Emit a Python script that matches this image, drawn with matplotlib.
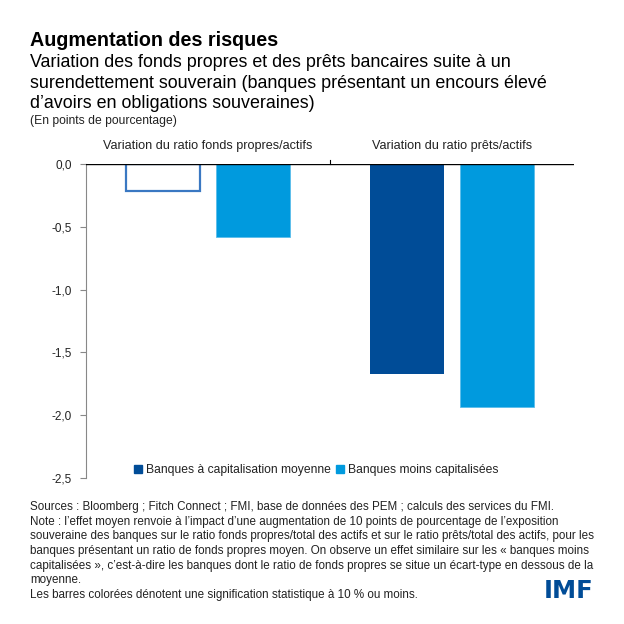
import matplotlib
matplotlib.use("Agg")
import matplotlib.pyplot as plt
import numpy as np

categories = ["Variation du ratio fonds propres/actifs", "Variation du ratio prêts/actifs"]
series_names = ["Banques à capitalisation moyenne", "Banques moins capitalisées"]
moyenne = [-0.21, -1.67]
moins = [-0.58, -1.94]
yticks = [0.0, -0.5, -1.0, -1.5, -2.0, -2.5]
ytick_labels = ["0,0", "-0,5", "-1,0", "-1,5", "-2,0", "-2,5"]

DARK = "#004C97"
LIGHT = "#009ADE"
FONT = "Liberation Sans"
plt.rcParams['font.family'] = [FONT, 'DejaVu Sans']

W = H = 624
fig = plt.figure(figsize=(6.24, 6.24), dpi=100)

def px(x, y):
    return x / W, 1 - y / H

ax = fig.add_axes([86 / W, 1 - 477.7 / H, (574 - 86) / W, (477.7 - 164.3) / H])
x = np.arange(len(categories))
off = 0.185
bw = 0.306
# first category's moyenne bar is not significant -> outline only
fills = ["white", DARK]
edges = ["#3A78C2", DARK]
for i in range(len(categories)):
    ax.bar(x[i] - off, moyenne[i], bw, color=fills[i], edgecolor=edges[i],
           linewidth=1.6 if i == 0 else 0, zorder=2)
ax.bar(x + off, moins, bw, color=LIGHT, edgecolor="#5BBDEB", linewidth=0.6, zorder=2)

ax.set_xlim(-0.5, 1.5)
ax.set_ylim(-2.5, 0)
ax.set_yticks(yticks)
ax.set_yticklabels(ytick_labels, fontsize=8.5, color="#222222")
ax.tick_params(axis="y", direction="out", length=4, color="#888888", pad=6)
ax.set_xticks([])
for s in ["top", "right", "bottom"]:
    ax.spines[s].set_visible(False)
ax.spines["left"].set_color("#888888")
ax.axhline(0, color="black", linewidth=1.0, zorder=3)
# separator tick above zero line
ax.plot([0.5, 0.5], [0, 0.035], color="black", linewidth=0.8, clip_on=False)
for i, c in enumerate(categories):
    ax.text(x[i], 0.145, c, ha="center", va="center", fontsize=9.1, color="#222222",
            transform=ax.transData, clip_on=False)

# legend
handles = [plt.Rectangle((0, 0), 1, 1, color=DARK), plt.Rectangle((0, 0), 1, 1, color=LIGHT)]
fig.legend(handles, series_names, loc="center", bbox_to_anchor=px(316, 470), ncol=2,
           frameon=False, fontsize=8.7, handlelength=0.7, handleheight=0.7,
           handletextpad=0.3, columnspacing=0.4, labelcolor="#222222")

# titles
fig.text(*px(30, 46), "Augmentation des risques", fontsize=14.2, fontweight="bold",
         va="baseline", ha="left", color="black")
sub = ["Variation des fonds propres et des prêts bancaires suite à un",
       "surendettement souverain (banques présentant un encours élevé",
       "d’avoirs en obligations souveraines)"]
for k, line in enumerate(sub):
    fig.text(*px(30, 67 + 20.5 * k), line, fontsize=12.9, va="baseline", ha="left", color="black")
fig.text(*px(30, 124), "(En points de pourcentage)", fontsize=8.7, va="baseline", ha="left", color="#222222")

notes = ["Sources : Bloomberg ; Fitch Connect ; FMI, base de données des PEM ; calculs des services du FMI.",
         "Note : l’effet moyen renvoie à l’impact d’une augmentation de 10 points de pourcentage de l’exposition",
         "souveraine des banques sur le ratio fonds propres/total des actifs et sur le ratio prêts/total des actifs, pour les",
         "banques présentant un ratio de fonds propres moyen. On observe un effet similaire sur les « banques moins",
         "capitalisées », c’est-à-dire les banques dont le ratio de fonds propres se situe un écart-type en dessous de la",
         "moyenne.",
         "Les barres colorées dénotent une signification statistique à 10 % ou moins."]
for k, line in enumerate(notes):
    fig.text(*px(30, 507 + 14.67 * k), line, fontsize=8.35, va="center", ha="left", color="#222222")

fig.text(*px(569, 591), "IMF", fontsize=17.5, fontweight="bold", family="DejaVu Sans",
         color=DARK, ha="center", va="center")

fig.savefig("out.png", dpi=100)
